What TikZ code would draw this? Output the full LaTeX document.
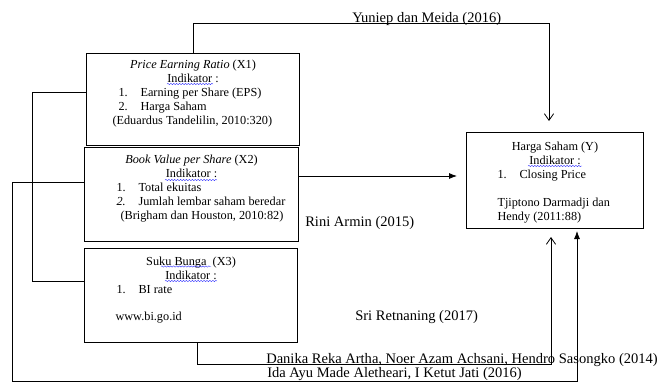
\documentclass[tikz,border=0pt]{standalone}
\usepackage{fontspec}
\setmainfont{Liberation Serif}
\usetikzlibrary{arrows.meta,decorations.pathmorphing}
\newlength{\px}\setlength{\px}{0.75pt}
\newcommand{\isikotak}{\fontsize{9.2pt}{10.5pt}\selectfont}
\newcommand{\isilabel}{\fontsize{10.9pt}{13pt}\selectfont}
\newcommand{\tengah}[1]{\makebox[\linewidth]{#1}}
\newcommand{\butir}[3]{\hspace*{#1\px}\makebox[22\px][l]{#2}#3}

\begin{document}
\begin{tikzpicture}[x=0.75pt,y=-0.75pt,
    kotak/.style={draw,line width=0.8pt,inner sep=0pt,anchor=north west,font=\isikotak},
    garis/.style={line width=0.6pt},
    panahbuka/.style={garis,-{Straight Barb[length=5pt,width=7pt]}},
    panahisi/.style={garis,-{Latex[length=6pt,width=4.5pt]}},
    ket/.style={anchor=base west,inner sep=0pt,font=\isilabel},
    ejaan/.style={blue!80!white,line width=0.3pt,decorate,decoration={snake,amplitude=0.5pt,segment length=2.2pt}}]
  \useasboundingbox (0,0) rectangle (665,383);

  % kotak variabel
  \node[kotak] (x1) at (86,53) {\parbox[t][92\px][t]{213\px}{%
      \rule{0pt}{15\px}\tengah{\textit{Price Earning Ratio} (X1)}\\
      \tengah{Indikator :}\\
      \butir{32}{1.}{Earning per Share (EPS)}\\
      \butir{32}{2.}{Harga Saham}\\
      \hspace*{26\px}(Eduardus Tandelilin, 2010:320)}};
  \node[kotak] (x2) at (84,147) {\parbox[t][94\px][t]{214\px}{%
      \rule{0pt}{15.5\px}\tengah{\textit{Book Value per Share} (X2)}\\
      \tengah{Indikator :}\\
      \butir{32}{1.}{Total ekuitas}\\
      \butir{32}{\textit{2.}}{Jumlah lembar saham beredar}\\
      \hspace*{36\px}(Brigham dan Houston, 2010:82)}};
  \node[kotak] (x3) at (84,248) {\parbox[t][94\px][t]{213\px}{%
      \rule{0pt}{16.5\px}\tengah{Suku Bunga\ \ (X3)}\\
      \tengah{Indikator :}\\
      \butir{32}{1.}{BI rate}\\[13.5\px]
      \hspace*{31\px}www.bi.go.id}};
  \node[kotak] (y) at (466,132) {\parbox[t][96\px][t]{177\px}{%
      \rule{0pt}{17.5\px}\tengah{Harga Saham (Y)}\\
      \tengah{Indikator :}\\
      \butir{31}{1.}{Closing Price}\\[14\px]
      \hspace*{31\px}Tjiptono Darmadji dan\\
      \hspace*{31\px}Hendy (2011:88)}};

  % garis ejaan
  \draw[ejaan] (167,84) -- (213,84);
  \draw[ejaan] (165,180) -- (217,180);
  \draw[ejaan] (161,266.5) -- (211,266.5);
  \draw[ejaan] (165,281) -- (217,281);
  \draw[ejaan] (528,166) -- (582,166);

  % hubungan
  \coordinate (tr) at (549,23);
  \coordinate (ytop) at (549,121);
  \draw[panahbuka] (x1.north) |- (tr) -- (ytop);

  \coordinate (yin) at (457,176);
  \draw[panahisi] (x2.east |- yin) -- (yin);

  \coordinate (kiri1) at (32,281);
  \draw[garis] (x1.west |- 0,92) -| (kiri1) -- (x3.west |- kiri1);

  \coordinate (kiri2) at (12,381.5);
  \coordinate (ybawah2) at (577,231);
  \draw[panahisi] (x2.west |- 0,182) -| (kiri2) -| (ybawah2);

  \coordinate (bawah3) at (197,364);
  \coordinate (ybawah1) at (551,237);
  \draw[panahbuka] (x3.south -| bawah3) -- (bawah3) -| (ybawah1);

  % nama peneliti
  \node[ket] (yuniep) at (352,22) {Yuniep dan Meida (2016)};
  \node[ket] (rini) at (305,226) {Rini Armin (2015)};
  \node[ket] (sri) at (355,320) {Sri Retnaning (2017)};
  \node[ket] (danika) at (266,363) {Danika Reka Artha, Noer Azam Achsani, Hendro Sasongko (2014)};
  \node[ket] (ida) at (267,377.5) {Ida Ayu Made Aletheari, I Ketut Jati (2016)};
\end{tikzpicture}
\end{document}
